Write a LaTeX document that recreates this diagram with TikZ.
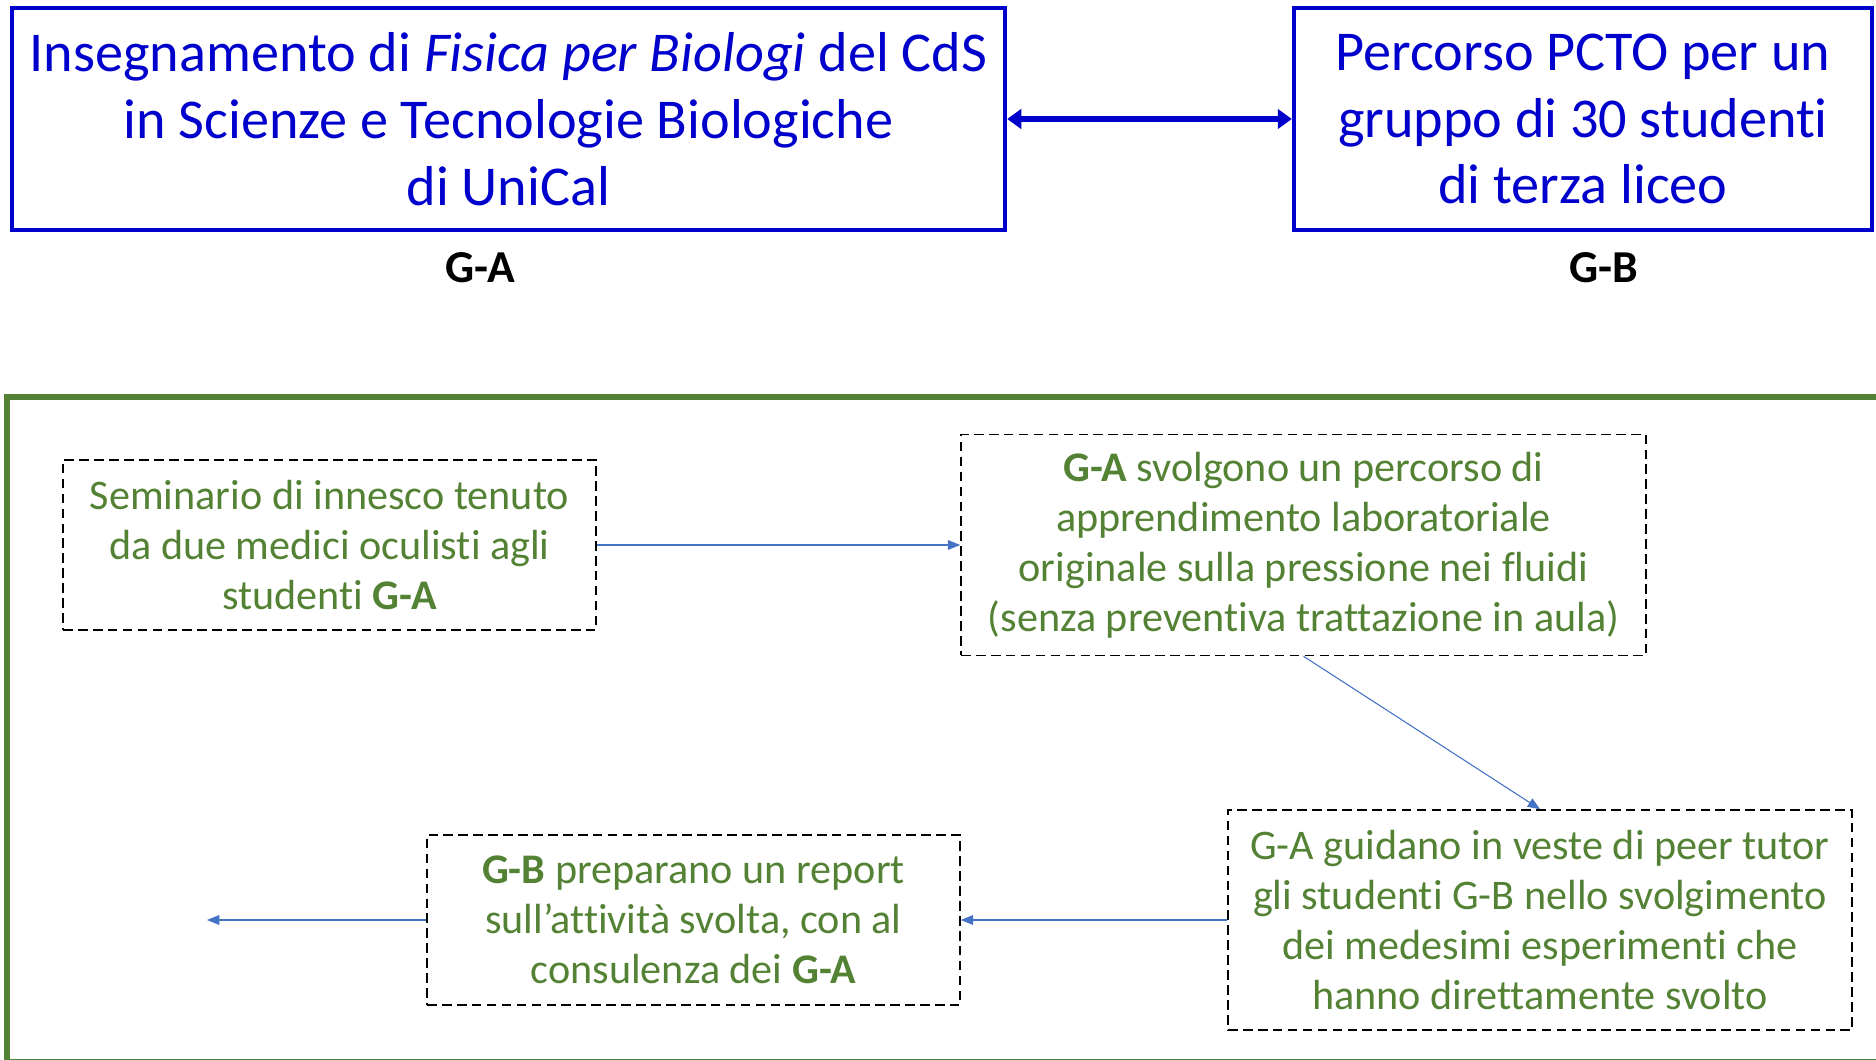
\documentclass[tikz,border=0pt]{standalone}
\usepackage{fontspec}
\setmainfont{Carlito}[Ligatures=NoCommon]
\usepackage{tikz}
\usetikzlibrary{arrows.meta}
\definecolor{titleblue}{RGB}{0,0,204}
\definecolor{stepgreen}{RGB}{84,130,53}
\definecolor{linkblue}{RGB}{68,114,196}

\begin{document}
\begin{tikzpicture}
\tikzstyle{group}=[draw=titleblue,line width=2.5pt,text=titleblue,align=center,inner sep=0pt,minimum height=4.44cm,font=\fontsize{32}{38}\selectfont];
\tikzstyle{tag}=[font=\fontsize{26}{30}\selectfont\bfseries];
\tikzstyle{stepbox}=[draw,line width=0.9pt,dash pattern=on 5.5pt off 3pt,text=stepgreen,align=center,inner sep=0pt,font=\fontsize{24}{28.5}\selectfont];
\tikzstyle{flow}=[-{Triangle[length=7pt,width=5.5pt]},draw=linkblue,fill=linkblue,line width=0.6pt];
\tikzstyle{link}=[{Triangle[length=8pt,width=11pt]}-{Triangle[length=8pt,width=11pt]},draw=titleblue,line width=3.2pt];
\useasboundingbox (0,0) rectangle (37.52,-21.2);
\clip (0,0) rectangle (37.52,-21.2);
\draw [stepgreen,line width=3.4pt] (0.14,-7.94) rectangle (38,-21.23);

\node [group,minimum width=19.86cm] (v1) at (10.17,-2.38) {Insegnamento di \textit{Fisica per Biologi} del CdS\\in Scienze e Tecnologie Biologiche\\di UniCal};
\node [group,minimum width=11.56cm] (v2) at (31.66,-2.38) {Percorso PCTO per un\\gruppo di 30 studenti\\di terza liceo};
\node [tag] (t1) at (9.6,-5.36) {G-A};
\node [tag] (t2) at (32.08,-5.36) {G-B};
\draw [link] (v1) -- (v2);

\node [stepbox,minimum width=10.66cm,minimum height=3.4cm] (v3) at (6.59,-10.9) {Seminario di innesco tenuto\\da due medici oculisti agli\\studenti \textbf{G-A}};
\node [stepbox,minimum width=13.7cm,minimum height=4.42cm] (v4) at (26.07,-10.9) {\textbf{G-A} svolgono un percorso di\\apprendimento laboratoriale\\originale sulla pressione nei fluidi\\(senza preventiva trattazione in aula)};
\node [stepbox,minimum width=12.48cm,minimum height=4.4cm] (v5) at (30.8,-18.4) {G-A guidano in veste di peer tutor\\gli studenti G-B nello svolgimento\\dei medesimi esperimenti che\\hanno direttamente svolto};
\node [stepbox,minimum width=10.66cm,minimum height=3.4cm] (v6) at (13.87,-18.4) {\textbf{G-B} preparano un report\\sull’attività svolta, con al\\consulenza dei \textbf{G-A}};
\coordinate (v7) at (4.14,-18.4);
\draw [flow] (v3) -- (v4);
\draw [flow] (v4.south) -- (v5.north);
\draw [flow] (v5) -- (v6);
\draw [flow] (v6) -- (v7);
\end{tikzpicture}
\end{document}
